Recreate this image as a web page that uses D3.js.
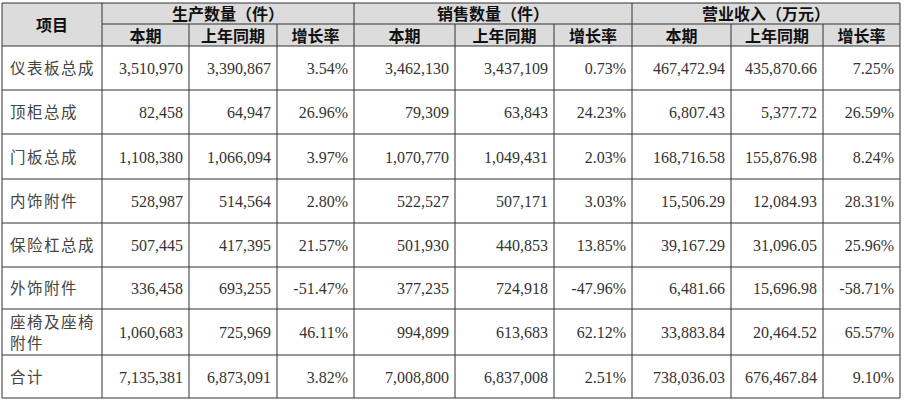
<!DOCTYPE html>
<html>
<head>
<meta charset="utf-8">
<script src="https://cdn.jsdelivr.net/npm/d3@7"></script>
<style>
body { margin: 0; background: #fff; }
</style>
</head>
<body>
<svg id="chart" width="904" height="402"></svg>
<script>
// table data
const items = ["仪表板总成", "顶柜总成", "门板总成", "内饰附件", "保险杠总成", "外饰附件", "座椅及座椅\n附件", "合计"];
const prodCur = ["3,510,970", "82,458", "1,108,380", "528,987", "507,445", "336,458", "1,060,683", "7,135,381"];
const prodPrev = ["3,390,867", "64,947", "1,066,094", "514,564", "417,395", "693,255", "725,969", "6,873,091"];
const prodRate = ["3.54%", "26.96%", "3.97%", "2.80%", "21.57%", "-51.47%", "46.11%", "3.82%"];
const saleCur = ["3,462,130", "79,309", "1,070,770", "522,527", "501,930", "377,235", "994,899", "7,008,800"];
const salePrev = ["3,437,109", "63,843", "1,049,431", "507,171", "440,853", "724,918", "613,683", "6,837,008"];
const saleRate = ["0.73%", "24.23%", "2.03%", "3.03%", "13.85%", "-47.96%", "62.12%", "2.51%"];
const revCur = ["467,472.94", "6,807.43", "168,716.58", "15,506.29", "39,167.29", "6,481.66", "33,883.84", "738,036.03"];
const revPrev = ["435,870.66", "5,377.72", "155,876.98", "12,084.93", "31,096.05", "15,696.98", "20,464.52", "676,467.84"];
const revRate = ["7.25%", "26.59%", "8.24%", "28.31%", "25.96%", "-58.71%", "65.57%", "9.10%"];
const groups = ["生产数量（件）", "销售数量（件）", "营业收入（万元）"];
const subHeads = ["本期", "上年同期", "增长率"];

const colEdges = [2, 102, 189, 277, 354, 455, 554, 632, 731, 823, 900];
const rowEdges = [46, 90, 134, 179, 223, 267, 309, 355, 398];
const headTop = 3, headMid = 24;

const svg = d3.select("#chart");
const cols = [prodCur, prodPrev, prodRate, saleCur, salePrev, saleRate, revCur, revPrev, revRate];

// header background
svg.append("rect").attr("x", colEdges[0]).attr("y", headTop)
  .attr("width", colEdges[10] - colEdges[0]).attr("height", rowEdges[0] - headTop)
  .attr("fill", "#dcdcdc");

const hfont = "'Noto Sans CJK SC', sans-serif";
svg.append("text").attr("x", (colEdges[0] + colEdges[1]) / 2).attr("y", (headTop + rowEdges[0]) / 2 + 6)
  .attr("text-anchor", "middle").attr("font-family", hfont).attr("font-weight", "bold")
  .attr("font-size", 16).attr("fill", "#111").text("项目");

groups.forEach((g, i) => {
  let x0 = colEdges[1 + i * 3], x1 = colEdges[4 + i * 3];
  svg.append("text").attr("x", (x0 + x1) / 2).attr("y", headMid - 4)
    .attr("text-anchor", "middle").attr("font-family", hfont).attr("font-weight", "bold")
    .attr("font-size", 16).attr("fill", "#111").text(g);
  subHeads.forEach((s, j) => {
    let a = colEdges[1 + i * 3 + j], b = colEdges[2 + i * 3 + j];
    svg.append("text").attr("x", (a + b) / 2).attr("y", rowEdges[0] - 4)
      .attr("text-anchor", "middle").attr("font-family", hfont).attr("font-weight", "bold")
      .attr("font-size", 16).attr("fill", "#111").text(s);
  });
});

// body rows
items.forEach((name, r) => {
  let y0 = rowEdges[r], y1 = rowEdges[r + 1], cy = (y0 + y1) / 2;
  let lines = name.split("\n");
  lines.forEach((ln, k) => {
    svg.append("text").attr("x", colEdges[0] + 8)
      .attr("y", cy + 6 + (k - (lines.length - 1) / 2) * 21)
      .attr("font-family", "'Noto Sans CJK SC', serif").attr("font-size", 15.5)
      .attr("fill", "#444").attr("letter-spacing", 1.5).text(ln);
  });
  cols.forEach((col, c) => {
    svg.append("text").attr("x", colEdges[c + 2] - 6).attr("y", cy + 6)
      .attr("text-anchor", "end").attr("font-family", "'Liberation Serif', serif")
      .attr("font-size", 16).attr("fill", "#333").text(col[r]);
  });
});

// grid lines
const hLines = [headTop, rowEdges[0]].concat(rowEdges.slice(1));
svg.selectAll(".hl").data(hLines).enter().append("line")
  .attr("x1", colEdges[0]).attr("x2", colEdges[10])
  .attr("y1", d => d).attr("y2", d => d).attr("stroke", "#333").attr("stroke-width", 1);
svg.append("line").attr("x1", colEdges[1]).attr("x2", colEdges[10])
  .attr("y1", headMid).attr("y2", headMid).attr("stroke", "#333");
colEdges.forEach((x, i) => {
  let top = (i === 0 || i === 1 || i === 4 || i === 7 || i === 10) ? headTop : headMid;
  svg.append("line").attr("x1", x).attr("x2", x).attr("y1", top).attr("y2", rowEdges[8])
    .attr("stroke", "#333");
});
</script>
</body>
</html>
